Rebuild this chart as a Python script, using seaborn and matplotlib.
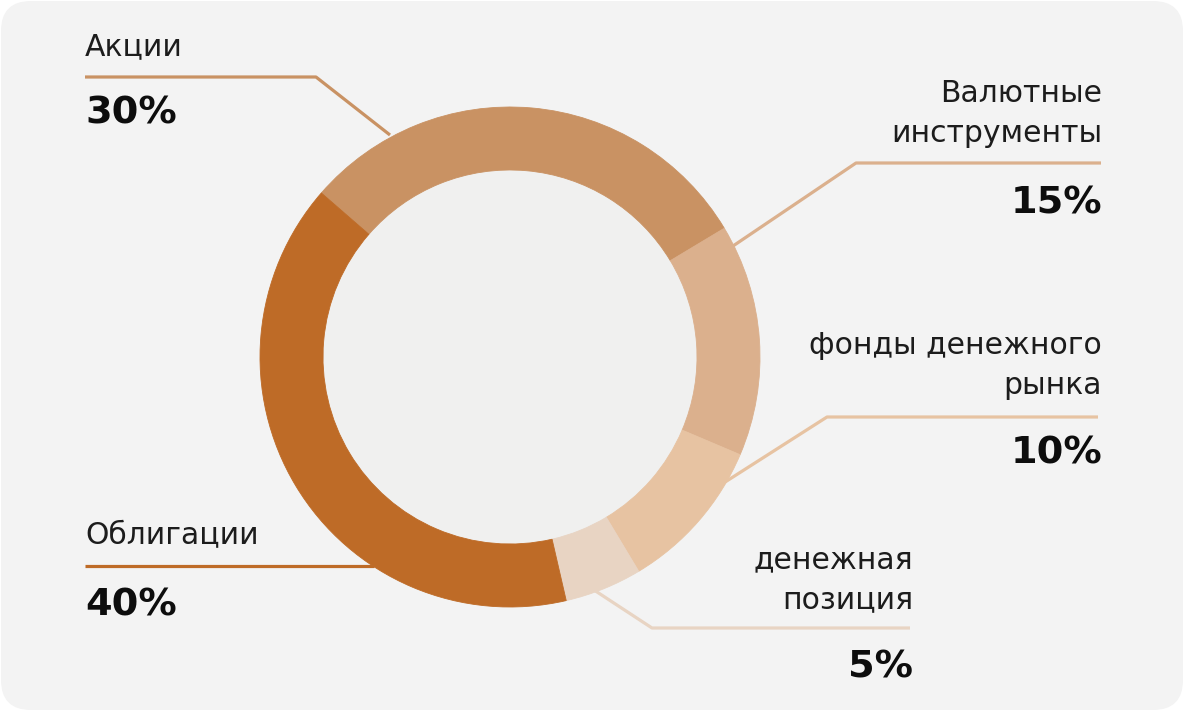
import numpy as np
import seaborn as sns
import matplotlib.pyplot as plt
from matplotlib.patches import FancyBboxPatch, Circle

# Data
categories = ["Акции", "Валютные\nинструменты", "фонды денежного\nрынка",
              "денежная\nпозиция", "Облигации"]
shares = [30, 15, 10, 5, 40]
colors = ["#C99263", "#DBB08D", "#E7C3A2", "#E8D4C3", "#BE6B27"]

# Layout (pixel coords, y down): text x, align, baseline of last label line,
# leader polyline, percent baseline
layout = [
    dict(x=85, ha="left", y=55, line=[(85, 77), (316, 77), (390, 135)], pct_y=124),
    dict(x=1102, ha="right", y=142, line=[(1101, 163), (856, 163), (733, 246)], pct_y=213),
    dict(x=1102, ha="right", y=394, line=[(1098, 417), (827, 417), (722, 484)], pct_y=463),
    dict(x=913, ha="right", y=608, line=[(910, 628), (652, 628), (594, 590)], pct_y=678),
    dict(x=85, ha="left", y=544, line=[(85, 566), (374, 566)], pct_y=615),
]

sns.set_theme(style="white")
plt.rcParams["font.family"] = ["DejaVu Sans"]

W, H = 1184, 711
fig = plt.figure(figsize=(W / 100, H / 100), dpi=100)
fig.patch.set_facecolor("white")
ax = fig.add_axes([0, 0, 1, 1])

# rounded panel
ax.add_patch(FancyBboxPatch((1, 1), W - 2, H - 2,
                            boxstyle="round,pad=0,rounding_size=30",
                            facecolor="#F3F3F3", edgecolor="none", zorder=0))

center = (510, 357)
outer_r = 250
ring_w = 63

# y axis is inverted, so counterclock=True runs clockwise on screen
ax.pie(shares, colors=colors, startangle=-139, counterclock=True,
       radius=outer_r, center=center,
       wedgeprops=dict(width=ring_w, linewidth=0.6, edgecolor=None))
for w, c in zip(ax.patches[1:], colors):
    w.set_edgecolor(c)
    w.set_zorder(2)

ax.add_patch(Circle(center, outer_r - ring_w, facecolor="#F0F0EF",
                    edgecolor="none", zorder=1))

for cat, val, col, lay in zip(categories, shares, colors, layout):
    lines = cat.split("\n")
    for i, txt in enumerate(reversed(lines)):
        ax.text(lay["x"], lay["y"] - i * 40, txt, ha=lay["ha"], va="baseline",
                fontsize=21.5, color="#1C1C1C", zorder=4)
    xs, ys = zip(*lay["line"])
    ax.plot(xs, ys, color=col, lw=2.3, solid_capstyle="butt", zorder=3)
    ax.text(lay["x"], lay["pct_y"], f"{val}%", ha=lay["ha"], va="baseline",
            fontsize=27.5, fontweight="bold", color="#0D0D0D", zorder=4)

ax.set_xlim(0, W)
ax.set_ylim(H, 0)
ax.set_aspect("auto")
ax.axis("off")

fig.savefig("out.png", dpi=100, facecolor=fig.get_facecolor())
